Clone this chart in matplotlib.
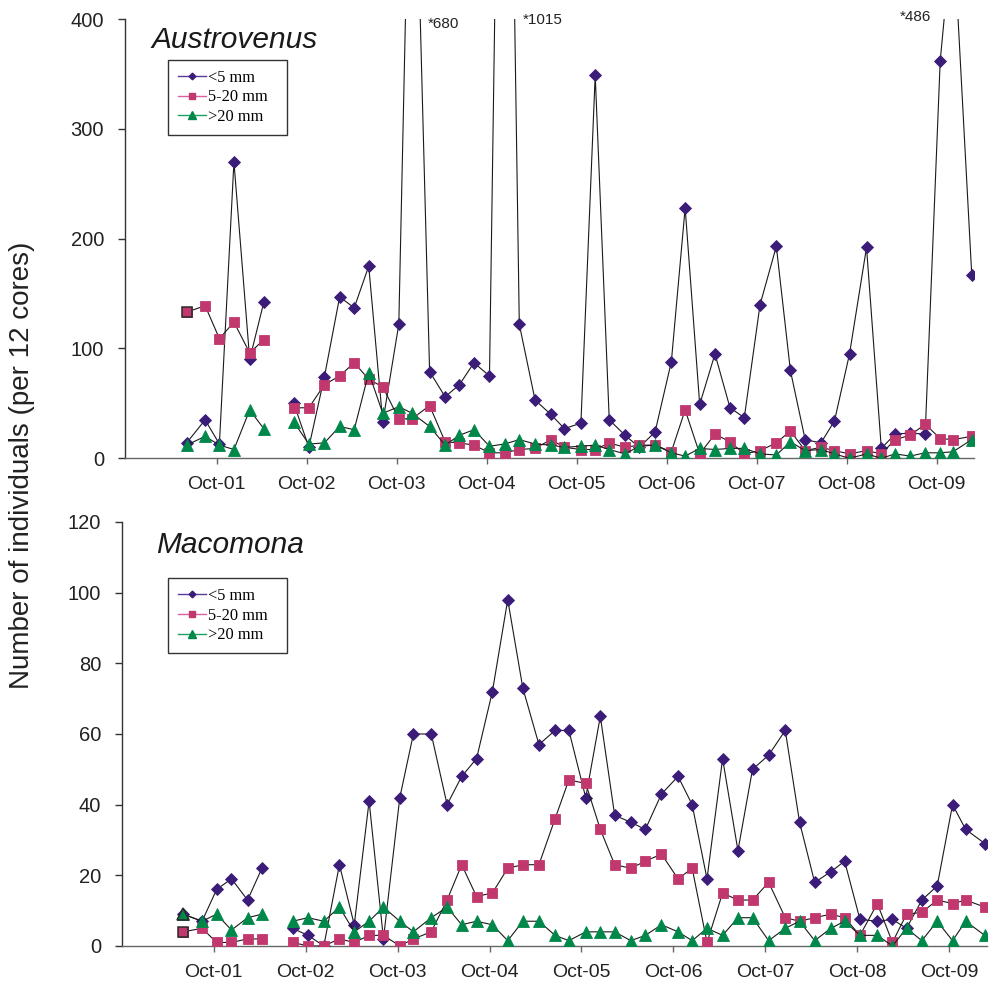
import numpy as np
import pandas as pd
import matplotlib
matplotlib.use("Agg")
import matplotlib.pyplot as plt
import matplotlib.dates as mdates
from matplotlib.lines import Line2D

nan = np.nan

# Bimonthly sampling dates (no sample in June 2002 -> gap in the lines)
sample_dates = [
    "2001-06-01", "2001-08-15", "2001-10-12", "2001-12-10", "2002-02-12", "2002-04-10",
    "2002-06-10",
    "2002-08-10", "2002-10-10", "2002-12-12",
    "2003-02-12", "2003-04-12", "2003-06-10", "2003-08-06", "2003-10-10", "2003-12-03",
    "2004-02-12", "2004-04-15", "2004-06-12", "2004-08-10", "2004-10-12", "2004-12-12",
    "2005-02-10", "2005-04-15", "2005-06-18", "2005-08-12", "2005-10-18", "2005-12-15",
    "2006-02-10", "2006-04-15", "2006-06-12", "2006-08-15", "2006-10-20", "2006-12-15",
    "2007-02-12", "2007-04-15", "2007-06-15", "2007-08-12", "2007-10-15", "2007-12-20",
    "2008-02-15", "2008-04-15", "2008-06-18", "2008-08-12", "2008-10-12", "2008-12-20",
    "2009-02-18", "2009-04-15", "2009-06-15", "2009-08-15", "2009-10-15", "2009-12-06",
    "2010-02-20",
]

# October tick marks, Oct-01 .. Oct-09
tick_years = list(range(2001, 2010))

size_classes = ["<5 mm", "5-20 mm", ">20 mm"]

# Austrovenus counts (per 12 cores)
austro_small = [14, 35, 13, 270, 90, 142, nan,
                50, 10, 74, 147, 137, 175, 33, 122, 680, 79, 56, 67,
                87, 75, 1015, 122, 53, 40, 27, 32, 349, 35, 21, 10,
                24, 88, 228, 49, 95, 46, 37, 140, 193, 80, 17, 14,
                34, 95, 192, 9, 22, 23, 22, 362, 486, 167]
austro_mid = [133, 139, 109, 124, 96, 108, nan,
              46, 46, 67, 75, 87, 72, 65, 36, 36, 48, 15, 14,
              12, 5, 5, 8, 9, 17, 10, 8, 8, 14, 10, 12,
              12, 6, 44, 4, 22, 15, 4, 7, 14, 25, 7, 10,
              7, 4, 7, 4, 17, 21, 31, 18, 17, 20]
austro_large = [12, 20, 12, 8, 44, 27, nan,
                33, 13, 14, 29, 26, 78, 41, 47, 41, 29, 12, 21,
                26, 11, 13, 17, 13, 12, 10, 11, 12, 8, 4, 11,
                12, 5, 2, 9, 8, 9, 9, 4, 3, 15, 7, 8,
                4, 0, 4, 0, 4, 2, 5, 5, 6, 17]

# Macomona counts (per 12 cores)
macom_small = [9, 7, 16, 19, 13, 22, nan,
               5, 3, 0, 23, 6, 41, 2, 42, 60, 60, 40, 48,
               53, 72, 98, 73, 57, 61, 61, 42, 65, 37, 35, 33,
               43, 48, 40, 19, 53, 27, 50, 54, 61, 35, 18, 21,
               24, 7.5, 7, 7.5, 5, 13, 17, 40, 33, 29]
macom_mid = [4, 5, 1, 1, 2, 2, nan,
             1, 0, 0, 2, 1, 3, 3, 0, 2, 4, 13, 23,
             14, 15, 22, 23, 23, 36, 47, 46, 33, 23, 22, 24,
             26, 19, 22, 1, 15, 13, 13, 18, 8, 7, 8, 9,
             8, 3, 12, 1, 9, 9.5, 13, 12, 13, 11]
macom_large = [9, 7, 9, 4.5, 8, 9, nan,
               7, 8, 7, 11, 4, 7, 11, 7, 4, 8, 11, 6,
               7, 6, 1.5, 7, 7, 3, 1.5, 4, 4, 4, 1.5, 3,
               6, 4, 1.5, 5, 3, 8, 8, 1.5, 5, 7, 1.5, 5,
               7, 3, 3, 0, 5, 1.5, 7, 1.5, 7, 3]

dates = pd.to_datetime(sample_dates)
oct_ticks = [pd.Timestamp(year=y, month=10, day=1) for y in tick_years]

marker_face = ["#3b1c78", "#c0386e", "#00884a"]
legend_line = ["#5a3a9e", "#d8609c", "#1aa060"]
markers = ["D", "s", "^"]
marker_sizes = [6.0, 7.6, 8.2]
legend_marker_sizes = [3.4, 5.0, 5.2]

sans = "Liberation Sans"
serif = "Liberation Serif"

fig = plt.figure(figsize=(9.89, 9.86), dpi=100)
ax_top = fig.add_axes([0.1264, 0.5352, 0.8584, 0.4455])
ax_bot = fig.add_axes([0.1234, 0.0406, 0.8746, 0.4300])


def draw_panel(ax, series, ymax, ystep, xlim, dark_first, legend_box):
    for i, vals in enumerate(series):
        v = np.asarray(vals, dtype=float)
        ax.plot(dates, v, color="#1a1a1a", lw=0.8, marker=markers[i],
                ms=marker_sizes[i], mfc=marker_face[i], mec=marker_face[i],
                mew=0.6, zorder=3 + i)
        if i in dark_first:
            ax.plot(dates[:1], v[:1], ls="none", marker=markers[i],
                    ms=marker_sizes[i], mfc=marker_face[i], mec="#2a2a2a",
                    mew=1.1, zorder=3 + i)
    ax.set_ylim(0, ymax)
    ax.set_yticks(np.arange(0, ymax + 1, ystep))
    ax.set_xlim(pd.Timestamp(xlim[0]), pd.Timestamp(xlim[1]))
    ax.set_xticks(oct_ticks)
    ax.xaxis.set_major_formatter(mdates.DateFormatter("%b-%y"))
    for s in ("top", "right"):
        ax.spines[s].set_visible(False)
    ax.spines["left"].set_color("#333333")
    ax.spines["bottom"].set_color("#666666")
    for s in ("left", "bottom"):
        ax.spines[s].set_linewidth(1.0)
    ax.tick_params(axis="y", direction="out", length=5, width=1,
                   color="#333333", pad=10, labelsize=14.5, labelcolor="#222222")
    ax.tick_params(axis="x", direction="out", length=4, width=1,
                   color="#666666", pad=9, labelsize=14, labelcolor="#222222")
    for lab in ax.get_xticklabels() + ax.get_yticklabels():
        lab.set_fontfamily(sans)

    handles = [Line2D([], [], color=legend_line[i], lw=1.0, marker=markers[i],
                      ms=legend_marker_sizes[i], mfc=marker_face[i],
                      mec=marker_face[i]) for i in range(3)]
    leg = ax.legend(handles, size_classes, loc="upper left",
                    bbox_to_anchor=legend_box, mode="expand",
                    prop={"family": serif, "size": 11.8},
                    frameon=True, fancybox=False, framealpha=1,
                    edgecolor="#333333", borderpad=0.6, handlelength=1.75,
                    handletextpad=0.1, labelspacing=0.22, borderaxespad=0)
    leg.get_frame().set_linewidth(1.0)
    leg.set_zorder(10)


draw_panel(ax_top, [austro_small, austro_mid, austro_large], 400, 100,
           ("2000-09-24", "2010-03-01"), dark_first=[1],
           legend_box=(0.0503, 0.9067, 0.1409, 0.0))
draw_panel(ax_bot, [macom_small, macom_mid, macom_large], 120, 20,
           ("2000-10-01", "2010-03-01"), dark_first=[1, 2],
           legend_box=(0.0528, 0.867, 0.1383, 0.0))

# Off-scale peaks of the <5 mm class, labelled with their value
peak_offsets = {680: (11, -3.6, "left"), 1015: (13, -0.7, "left"), 486: (-16, 1.4, "right")}
small = np.asarray(austro_small, dtype=float)
for val, (dx, dy, ha) in peak_offsets.items():
    idx = int(np.where(small == val)[0][0])
    ax_top.annotate(f"*{val}", xy=(dates[idx], 1.0),
                    xycoords=("data", "axes fraction"),
                    xytext=(dx, dy), textcoords="offset points",
                    ha=ha, va="center", fontsize=11, family=sans,
                    color="#222222", annotation_clip=False)

fig.text(151 / 989, 1 - 48 / 986, "Austrovenus", family=sans, style="italic",
         fontsize=21.5, ha="left", va="baseline", color="#1a1a1a")
fig.text(156 / 989, 1 - 553 / 986, "Macomona", family=sans, style="italic",
         fontsize=21.5, ha="left", va="baseline", color="#1a1a1a")

fig.text(22 / 989, 1 - 465 / 986, "Number of individuals (per 12 cores)",
         family=sans, fontsize=20, rotation=90, ha="center", va="center",
         color="#222222")

fig.savefig("out.png", dpi=100)
